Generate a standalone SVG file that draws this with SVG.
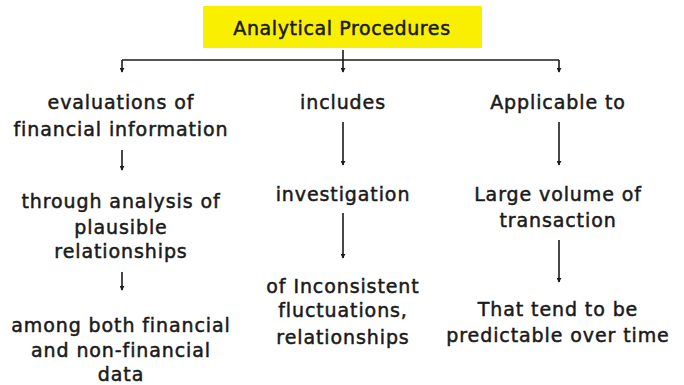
<svg xmlns="http://www.w3.org/2000/svg" width="684" height="385" viewBox="0 0 684 385">
<style>
text{font-family:"DejaVu Sans","Liberation Sans",sans-serif;font-size:19px;letter-spacing:0.9px;fill:#1a1a1a;stroke:#1a1a1a;stroke-width:0.5;text-anchor:middle}
.t{font-size:19px;letter-spacing:0.6px}
.c{stroke:#1a1a1a;stroke-width:1.6;fill:none}
</style>
<defs>
<marker id="d" viewBox="0 0 6 6" refX="3" refY="5" markerWidth="5" markerHeight="5" markerUnits="userSpaceOnUse" orient="0">
<path d="M0,0 L6,0 L3,6 Z" fill="#1a1a1a"/>
</marker>
</defs>
<rect width="684" height="385" fill="#fff"/>
<g id="title">
<rect x="203" y="6" width="279" height="42" fill="#f8f000"/>
<text class="t" x="342" y="35">Analytical Procedures</text>
</g>
<g id="connectors">
<path class="c" d="M122,60 H559"/>
<path class="c" d="M343,50 V72" marker-end="url(#d)"/>
<path class="c" d="M122,60 V72" marker-end="url(#d)"/>
<path class="c" d="M559,60 V72" marker-end="url(#d)"/>
<path class="c" d="M122,150 V170" marker-end="url(#d)"/>
<path class="c" d="M122,272 V290" marker-end="url(#d)"/>
<path class="c" d="M343,122 V165" marker-end="url(#d)"/>
<path class="c" d="M343,213 V258" marker-end="url(#d)"/>
<path class="c" d="M559,122 V165" marker-end="url(#d)"/>
<path class="c" d="M559,240 V282" marker-end="url(#d)"/>
</g>
<g id="n1"><text x="121" y="109">evaluations of</text><text x="121" y="136">financial information</text></g>
<g id="n2"><text x="121" y="208">through analysis of</text><text x="121" y="234">plausible</text><text x="121" y="258">relationships</text></g>
<g id="n3"><text x="121" y="332">among both financial</text><text x="121" y="357">and non-financial</text><text x="121" y="381">data</text></g>
<g id="n4"><text x="343" y="109">includes</text></g>
<g id="n5"><text x="343" y="201">investigation</text></g>
<g id="n6"><text x="343" y="293">of Inconsistent</text><text x="343" y="317">fluctuations,</text><text x="343" y="344">relationships</text></g>
<g id="n7"><text x="558" y="109">Applicable to</text></g>
<g id="n8"><text x="558" y="201">Large volume of</text><text x="558" y="227">transaction</text></g>
<g id="n9"><text x="558" y="316">That tend to be</text><text x="558" y="342">predictable over time</text></g>
</svg>
